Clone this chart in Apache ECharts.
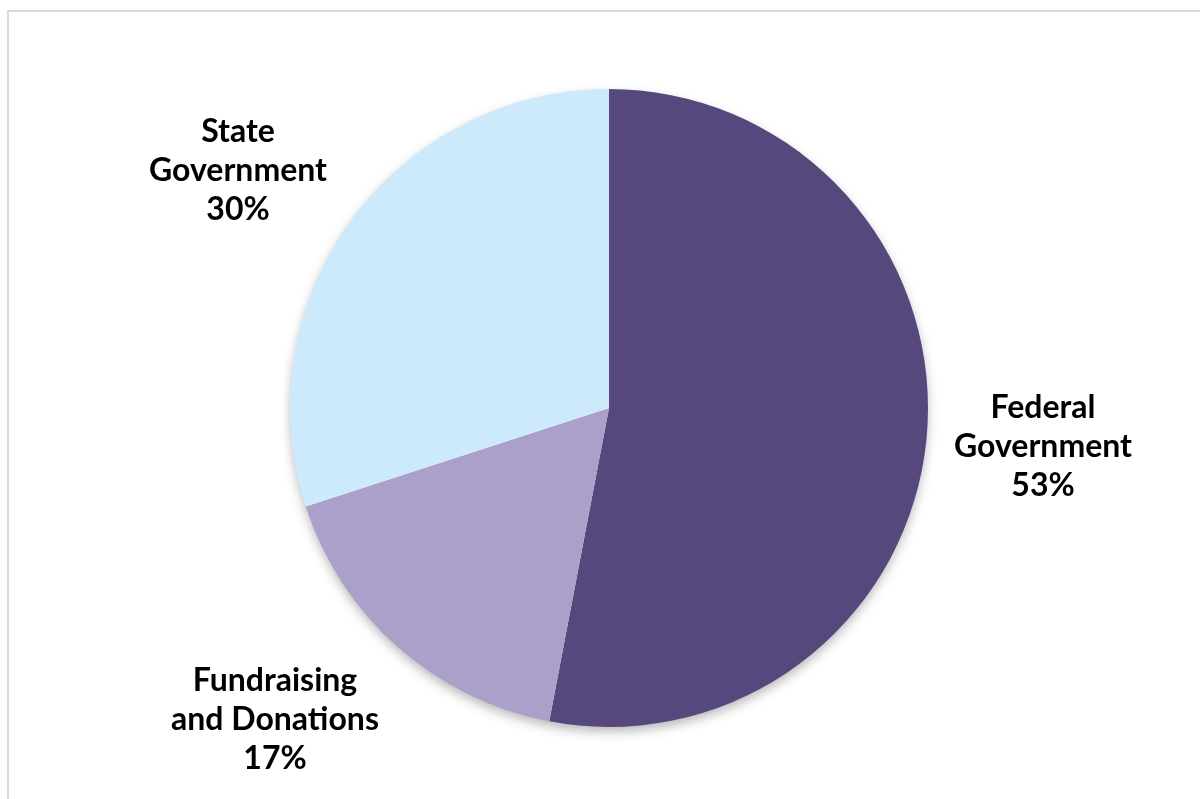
<!DOCTYPE html>
<html><head><meta charset="utf-8">
<script src="https://cdn.jsdelivr.net/npm/echarts@6/dist/echarts.min.js"></script>
<style>html,body{margin:0;padding:0;background:#fff}#c{width:1200px;height:799px}</style>
</head><body><div id="c"></div>
<script>
const categories = ['Federal\nGovernment', 'Fundraising\nand Donations', 'State\nGovernment'];
const values = [53, 17, 30];
const colors = ['#56487c', '#aaa0c9', '#cdeafd'];
const labelPos = [[1043, 447], [275, 720], [238, 171]];

const chart = echarts.init(document.getElementById('c'));
chart.setOption({
  animation: false,
  backgroundColor: '#fff',
  graphic: [{
    type: 'rect', shape: {x: 8, y: 11, width: 1210, height: 820},
    style: {fill: 'none', stroke: '#d9d9d9', lineWidth: 2}, silent: true, z: 0
  }],
  series: [{
    type: 'pie', silent: true, z: 1,
    center: [609, 408], radius: [0, 318],
    data: [{value: 1, itemStyle: {color: '#ffffff'}}],
    itemStyle: {shadowBlur: 12, shadowColor: 'rgba(0,0,0,0.3)', shadowOffsetY: 5},
    label: {show: false}, labelLine: {show: false}, emphasis: {disabled: true}
  }, {
    type: 'pie', z: 2,
    center: [609, 408],
    radius: [0, 319],
    startAngle: 90,
    clockwise: true,
    data: categories.map((c, i) => ({name: c, value: values[i], itemStyle: {color: colors[i]}})),
    itemStyle: {borderWidth: 0},
    label: {
      show: true, position: 'outside',
      formatter: p => p.name + '\n' + p.value + '%',
      fontFamily: 'Lato', fontWeight: 'bold', fontSize: 32, lineHeight: 39,
      color: '#000', align: 'center'
    },
    labelLine: {show: false},
    labelLayout: p => ({x: labelPos[p.dataIndex][0], y: labelPos[p.dataIndex][1], align: 'center', verticalAlign: 'middle'})
  }]
});
</script></body></html>
